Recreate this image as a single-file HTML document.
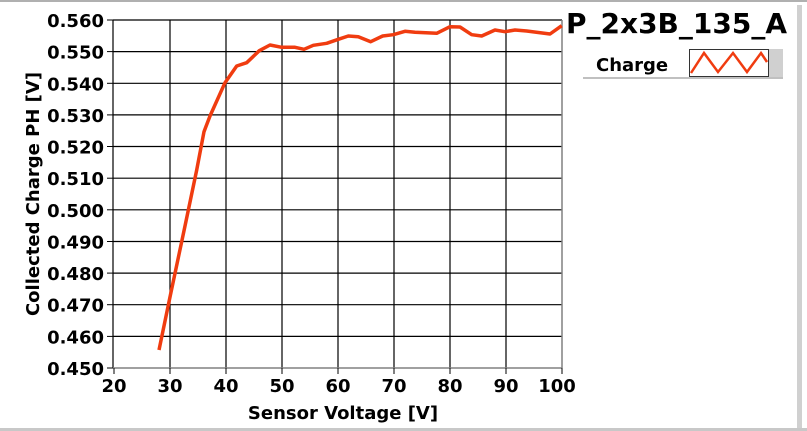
<!DOCTYPE html>
<html><head><style>
html,body{margin:0;padding:0;background:#fff;}
body{width:807px;height:431px;overflow:hidden;position:relative;font-family:"DejaVu Sans","Liberation Sans",sans-serif;font-weight:bold;}
</style></head><body>
<svg width="807" height="431" style="position:absolute;left:0;top:0" font-family="DejaVu Sans, Liberation Sans, sans-serif" font-weight="bold">
<rect x="0" y="0" width="807" height="2" fill="#b0b0b0"/>
<rect x="0" y="428" width="807" height="3" fill="#c8c8c8"/>
<rect x="797" y="5" width="5" height="423" fill="#d0d0d0"/>
<g stroke="#000" stroke-width="1.2">
<line x1="113" y1="20" x2="562" y2="20"/>
<line x1="113" y1="51.6" x2="562" y2="51.6"/>
<line x1="113" y1="83.3" x2="562" y2="83.3"/>
<line x1="113" y1="114.9" x2="562" y2="114.9"/>
<line x1="113" y1="146.5" x2="562" y2="146.5"/>
<line x1="113" y1="178.2" x2="562" y2="178.2"/>
<line x1="113" y1="209.8" x2="562" y2="209.8"/>
<line x1="113" y1="241.5" x2="562" y2="241.5"/>
<line x1="113" y1="273.1" x2="562" y2="273.1"/>
<line x1="113" y1="304.7" x2="562" y2="304.7"/>
<line x1="113" y1="336.4" x2="562" y2="336.4"/>
<line x1="170" y1="20" x2="170" y2="368"/>
<line x1="226" y1="20" x2="226" y2="368"/>
<line x1="282" y1="20" x2="282" y2="368"/>
<line x1="338" y1="20" x2="338" y2="368"/>
<line x1="394" y1="20" x2="394" y2="368"/>
<line x1="450" y1="20" x2="450" y2="368"/>
<line x1="506" y1="20" x2="506" y2="368"/>
<line x1="113" y1="20" x2="113" y2="368"/>
</g>
<line x1="113" y1="368" x2="562" y2="368" stroke="#808080" stroke-width="1.5"/>
<line x1="562" y1="20" x2="562" y2="368" stroke="#808080" stroke-width="1.5"/>
<g stroke="#000" stroke-width="1">
<line x1="107" y1="20" x2="113" y2="20"/><line x1="107" y1="51.6" x2="113" y2="51.6"/><line x1="107" y1="83.3" x2="113" y2="83.3"/><line x1="107" y1="114.9" x2="113" y2="114.9"/><line x1="107" y1="146.5" x2="113" y2="146.5"/><line x1="107" y1="178.2" x2="113" y2="178.2"/><line x1="107" y1="209.8" x2="113" y2="209.8"/><line x1="107" y1="241.5" x2="113" y2="241.5"/><line x1="107" y1="273.1" x2="113" y2="273.1"/><line x1="107" y1="304.7" x2="113" y2="304.7"/><line x1="107" y1="336.4" x2="113" y2="336.4"/><line x1="107" y1="368" x2="113" y2="368"/>
<line x1="114" y1="368" x2="114" y2="374"/><line x1="170" y1="368" x2="170" y2="374"/><line x1="226" y1="368" x2="226" y2="374"/><line x1="282" y1="368" x2="282" y2="374"/><line x1="338" y1="368" x2="338" y2="374"/><line x1="394" y1="368" x2="394" y2="374"/><line x1="450" y1="368" x2="450" y2="374"/><line x1="506" y1="368" x2="506" y2="374"/><line x1="562" y1="368" x2="562" y2="374"/>
</g>
<g font-size="18" text-anchor="end" fill="#000">
<text x="104" y="27">0.560</text><text x="104" y="58.6">0.550</text><text x="104" y="90.3">0.540</text><text x="104" y="121.9">0.530</text><text x="104" y="153.5">0.520</text><text x="104" y="185.2">0.510</text><text x="104" y="216.8">0.500</text><text x="104" y="248.5">0.490</text><text x="104" y="280.1">0.480</text><text x="104" y="311.7">0.470</text><text x="104" y="343.4">0.460</text><text x="104" y="375">0.450</text>
</g>
<g font-size="18" text-anchor="middle" fill="#000">
<text x="114" y="392">20</text><text x="170" y="392">30</text><text x="226" y="392">40</text><text x="282" y="392">50</text><text x="338" y="392">60</text><text x="394" y="392">70</text><text x="450" y="392">80</text><text x="506" y="392">90</text><text x="557" y="392">100</text>
</g>
<text x="343" y="419" font-size="18" text-anchor="middle">Sensor Voltage [V]</text>
<text transform="translate(39,194) rotate(-90)" font-size="18" text-anchor="middle">Collected Charge PH [V]</text>
<polyline fill="none" stroke="#f03c10" stroke-width="3.5" stroke-linejoin="round" points="159,350 170,297 185,226 196.7,170 204,131.7 210,116 225,82.7 236.7,66 246.7,62.7 259.3,50.7 270,45 281.7,47.3 295,47.3 304,49.3 313.3,45.3 326.7,43.3 338.3,39.3 348.3,36 358.3,36.7 370.7,41.7 382.7,36 393.3,34.7 405,31.3 415,32.3 436.7,33.3 450,26.7 460,27 471.7,34.7 481.7,36 495,30 505,31.7 515,30 526.7,31 550,34 561.7,25.7"/>
<text x="566" y="33" font-size="28" fill="#000">P_2x3B_135_A</text>
<rect x="583" y="77" width="200" height="2" fill="#c0c0c0"/>
<text x="596" y="71" font-size="18">Charge</text>
<rect x="689.5" y="49.5" width="79" height="27" fill="#fff" stroke="#333" stroke-width="1"/>
<rect x="769" y="49" width="14" height="28" fill="#d0d0d0"/>
<polyline fill="none" stroke="#f03c10" stroke-width="2.5" points="691,73 704,53 718,72 733,53 747,72 761,53 767,62"/>
</svg>
</body></html>
